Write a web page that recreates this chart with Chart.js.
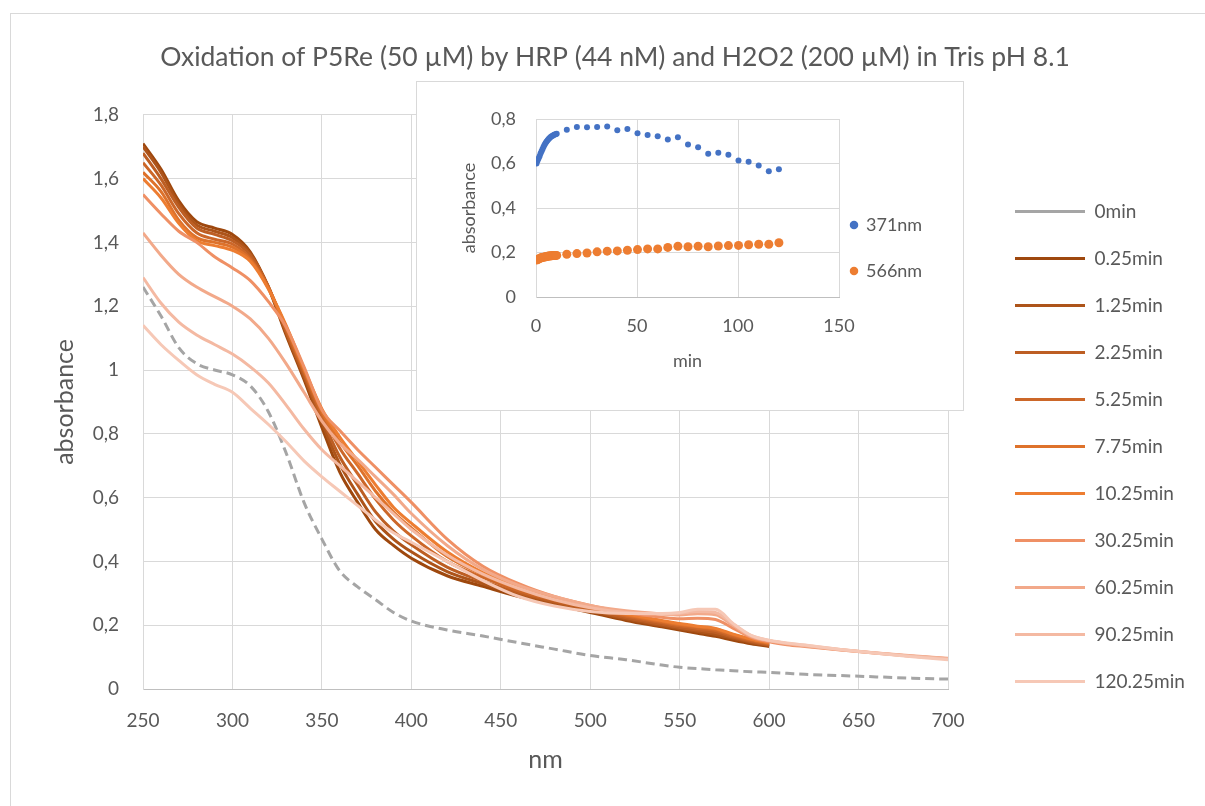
<!DOCTYPE html>
<html><head><meta charset="utf-8">
<script src="https://cdn.jsdelivr.net/npm/chart.js@4/dist/chart.umd.min.js"></script>
<style>
html,body{margin:0;padding:0;background:#fff;}
#frame{position:absolute;left:10px;top:13px;width:1200px;height:800px;border:1px solid #D9D9D9;box-sizing:border-box}
#mainWrap{position:absolute;left:0;top:0;width:1205px;height:806px}
#insetWrap{position:absolute;left:416px;top:81px;width:548px;height:330px;border:1px solid #D9D9D9;background:#fff;box-sizing:border-box}
canvas{display:block}
</style></head><body>
<div id="frame"></div>
<div id="mainWrap"><canvas id="main" width="1205" height="806"></canvas></div>
<div id="insetWrap"><canvas id="inset" width="546" height="328"></canvas></div>
<script>
// ---------- main chart data ----------
const wavelengths = [250,260,270,280,290,300,310,320,330,340,350,360,370,380,390,400,420,440,460,480,500,520,540,550,560,570,580,590,600,610,620,640,660,680,700];
const seriesNames = ['0min','0.25min','1.25min','2.25min','5.25min','7.75min','10.25min','30.25min','60.25min','90.25min','120.25min'];
const abs0 =    [1.26,1.17,1.07,1.02,1.0,0.985,0.95,0.87,0.74,0.585,0.47,0.37,0.32,0.28,0.24,0.213,0.185,0.166,0.145,0.125,0.105,0.092,0.075,0.068,0.064,0.06,0.057,0.054,0.052,0.049,0.046,0.042,0.038,0.034,0.031];
const abs0_25 = [1.71,1.63,1.53,1.465,1.445,1.425,1.37,1.26,1.11,0.97,0.82,0.68,0.585,0.50,0.45,0.41,0.355,0.322,0.29,0.265,0.24,0.215,0.195,0.185,0.175,0.165,0.153,0.142,0.133];
const abs1_25 = [1.70,1.62,1.52,1.455,1.435,1.415,1.365,1.262,1.115,0.978,0.835,0.705,0.61,0.525,0.47,0.43,0.368,0.33,0.297,0.269,0.244,0.219,0.199,0.189,0.18,0.171,0.158,0.146,0.136];
const abs2_25 = [1.68,1.60,1.51,1.445,1.425,1.405,1.36,1.263,1.12,0.985,0.848,0.728,0.64,0.555,0.495,0.452,0.382,0.338,0.302,0.273,0.248,0.223,0.203,0.193,0.185,0.177,0.162,0.149,0.138];
const abs5_25 = [1.65,1.58,1.49,1.43,1.41,1.395,1.35,1.26,1.128,0.995,0.86,0.755,0.675,0.595,0.53,0.48,0.40,0.35,0.308,0.278,0.252,0.228,0.208,0.198,0.19,0.183,0.166,0.152,0.141];
const abs7_75 = [1.62,1.56,1.47,1.415,1.40,1.385,1.345,1.258,1.135,1.0,0.87,0.775,0.70,0.62,0.555,0.505,0.415,0.358,0.314,0.282,0.255,0.232,0.212,0.202,0.195,0.188,0.17,0.155,0.143];
const abs10_25 =[1.60,1.54,1.46,1.405,1.39,1.375,1.34,1.255,1.14,1.005,0.878,0.79,0.715,0.64,0.57,0.52,0.43,0.365,0.32,0.286,0.258,0.235,0.215,0.205,0.197,0.19,0.172,0.157,0.145];
const abs30_25 =[1.55,1.49,1.435,1.40,1.355,1.32,1.28,1.215,1.135,1.01,0.875,0.81,0.75,0.695,0.64,0.585,0.47,0.385,0.33,0.29,0.262,0.24,0.225,0.22,0.222,0.218,0.19,0.162,0.148,0.139,0.133,0.122,0.112,0.103,0.095];
const abs60_25 =[1.43,1.36,1.30,1.26,1.23,1.20,1.16,1.10,1.02,0.93,0.84,0.77,0.72,0.665,0.61,0.55,0.45,0.375,0.325,0.29,0.262,0.245,0.235,0.232,0.236,0.233,0.198,0.165,0.151,0.142,0.135,0.123,0.113,0.104,0.096];
const abs90_25 =[1.29,1.21,1.15,1.11,1.08,1.05,1.01,0.96,0.89,0.815,0.75,0.70,0.65,0.60,0.55,0.50,0.42,0.36,0.315,0.28,0.255,0.24,0.235,0.237,0.243,0.24,0.203,0.167,0.152,0.143,0.137,0.124,0.113,0.103,0.094];
const abs120_25=[1.14,1.08,1.03,0.985,0.955,0.93,0.88,0.83,0.775,0.715,0.665,0.62,0.575,0.53,0.49,0.46,0.40,0.34,0.29,0.26,0.243,0.237,0.237,0.24,0.25,0.25,0.205,0.168,0.153,0.144,0.138,0.124,0.112,0.101,0.092];
const spectra = [abs0,abs0_25,abs1_25,abs2_25,abs5_25,abs7_75,abs10_25,abs30_25,abs60_25,abs90_25,abs120_25];
const yTickLabels = ['0','0,2','0,4','0,6','0,8','1','1,2','1,4','1,6','1,8'];
const xTickValues = [250,300,350,400,450,500,550,600,650,700];

// ---------- inset data ----------
const timesEarly = [0.25,0.75,1.25,1.75,2.25,2.75,3.25,3.75,4.25,4.75,5.25,5.75,6.25,6.75,7.25,7.75,8.25,8.75,9.25,9.75,10.25];
const timesLate = [15.25,20.25,25.25,30.25,35.25,40.25,45.25,50.25,55.25,60.25,65.25,70.25,75.25,80.25,85.25,90.25,95.25,100.25,105.25,110.25,115.25,120.25];
const a371Early = [0.600,0.612,0.622,0.633,0.645,0.655,0.665,0.675,0.684,0.692,0.699,0.705,0.710,0.715,0.719,0.722,0.725,0.728,0.730,0.732,0.734];
const a371Late = [0.752,0.764,0.763,0.764,0.766,0.749,0.755,0.736,0.728,0.723,0.708,0.718,0.685,0.673,0.644,0.648,0.639,0.614,0.608,0.591,0.565,0.574];
const a566Early = [0.166,0.168,0.171,0.173,0.175,0.177,0.178,0.179,0.180,0.181,0.182,0.183,0.184,0.184,0.185,0.185,0.186,0.186,0.187,0.187,0.187];
const a566Late = [0.192,0.195,0.198,0.203,0.206,0.207,0.210,0.213,0.216,0.216,0.223,0.228,0.226,0.228,0.226,0.229,0.231,0.232,0.235,0.237,0.237,0.244];
const insetYTickLabels = ['0','0,2','0,4','0,6','0,8'];

// ---------- styling ----------
const FONT = "Lato, 'Open Sans', 'DejaVu Sans', sans-serif";
Chart.defaults.font.family = FONT;
Chart.defaults.color = '#595959';
const colors = ['#A5A5A5','#9E480E','#AD541A','#BD5E23','#CC6729','#DE722B','#ED7D31','#EF9065','#F2A98A','#F4B9A2','#F6C8B6'];
const GRID = '#D9D9D9';

const placeLegend = {
  id: 'placeLegend',
  afterLayout(chart, args, o) {
    const L = chart.legend;
    if (L && o.left != null) {
      const w = L.width;
      L.left = o.left; L.right = o.left + w;
      L.top = o.top; L.bottom = chart.height;
    }
    const T = chart.titleBlock;
    if (T && o.titleCenter != null) {
      const half = (T.right - T.left) / 2;
      T.left = o.titleCenter - half; T.right = o.titleCenter + half;
    }
  }
};
Chart.register(placeLegend);

const datasets = spectra.map((arr, i) => ({
  label: seriesNames[i],
  data: arr.map((v, j) => ({x: wavelengths[j], y: v})),
  borderColor: colors[i],
  backgroundColor: colors[i],
  borderWidth: 3,
  borderDash: i === 0 ? [9, 5] : [],
  pointRadius: 0,
  cubicInterpolationMode: 'monotone',
  order: -i
}));

new Chart(document.getElementById('main'), {
  type: 'line',
  data: {datasets},
  options: {
    responsive: false,
    animation: false,
    events: [],
    layout: {padding: {left: 0, right: 57, top: 0, bottom: 0}},
    scales: {
      x: {
        type: 'linear', min: 250, max: 700,
        afterBuildTicks: s => { s.ticks = xTickValues.map(v => ({value: v})); },
        afterFit: s => { s.height = 117; },
        grid: {color: GRID, lineWidth: 1, drawTicks: false},
        border: {color: '#BFBFBF', width: 1},
        ticks: {font: {size: 19}, padding: 20, maxRotation: 0, callback: v => String(v)},
        title: {display: true, text: 'nm', font: {size: 25}, padding: {top: 0, bottom: 31}}
      },
      y: {
        min: 0, max: 1.8,
        ticks: {stepSize: 0.2, font: {size: 19}, padding: 24, callback: v => yTickLabels[Math.round(v / 0.2)]},
        afterFit: s => { s.width = 143; },
        grid: {color: GRID, lineWidth: 1, drawTicks: false},
        border: {color: GRID, width: 1},
        title: {display: true, text: 'absorbance', font: {size: 25}, padding: {top: 50, bottom: 0}}
      }
    },
    plugins: {
      title: {display: true, text: 'Oxidation of P5Re (50 µM) by HRP (44 nM) and H2O2 (200 µM) in Tris pH 8.1',
        font: {size: 26.5, weight: 'normal'}, color: '#595959', padding: {top: 42, bottom: 41}},
      legend: {
        position: 'right', align: 'start', maxWidth: 200,
        labels: {usePointStyle: true, pointStyle: 'line', pointStyleWidth: 70, font: {size: 19}, padding: 28, color: '#595959',
          sort: (a, b) => a.datasetIndex - b.datasetIndex}
      },
      placeLegend: {left: 987, top: 174, titleCenter: 615},
      tooltip: {enabled: false}
    }
  }
});

// ---------- inset ----------
const pts = (ts, vs) => ts.map((t, i) => ({x: t, y: vs[i]}));
new Chart(document.getElementById('inset'), {
  type: 'scatter',
  data: {datasets: [
    {label: '371nm', data: pts(timesEarly.concat(timesLate), a371Early.concat(a371Late)), backgroundColor: '#4472C4', borderColor: '#4472C4', pointRadius: 3, borderWidth: 0},
    {label: '566nm', data: pts(timesEarly.concat(timesLate), a566Early.concat(a566Late)), backgroundColor: '#ED7D31', borderColor: '#ED7D31', pointRadius: 4.5, borderWidth: 0}
  ]},
  options: {
    responsive: false,
    animation: false,
    events: [],
    layout: {padding: {left: 0, right: 24, top: 37, bottom: 32}},
    scales: {
      x: {
        type: 'linear', min: 0, max: 150,
        ticks: {stepSize: 50, font: {size: 18}, padding: 18, maxRotation: 0},
        afterFit: s => { s.height = 81; },
        grid: {color: GRID, drawTicks: false},
        border: {color: '#BFBFBF'},
        title: {display: true, text: 'min', font: {size: 18}, padding: {top: 0, bottom: 6}}
      },
      y: {
        min: 0, max: 0.8,
        ticks: {stepSize: 0.2, font: {size: 18}, padding: 20, callback: v => insetYTickLabels[Math.round(v / 0.2)]},
        afterFit: s => { s.width = 119; },
        grid: {color: GRID, drawTicks: false},
        border: {color: GRID},
        title: {display: true, text: 'absorbance', font: {size: 18}, padding: {top: 41, bottom: 0}}
      }
    },
    plugins: {
      legend: {position: 'right', align: 'start', maxWidth: 100,
        labels: {usePointStyle: true, pointStyle: 'circle', boxWidth: 6, boxHeight: 6, font: {size: 18}, padding: 28, color: '#595959'}},
      placeLegend: {left: 406, top: 106},
      tooltip: {enabled: false}
    }
  }
});
</script>
</body></html>
